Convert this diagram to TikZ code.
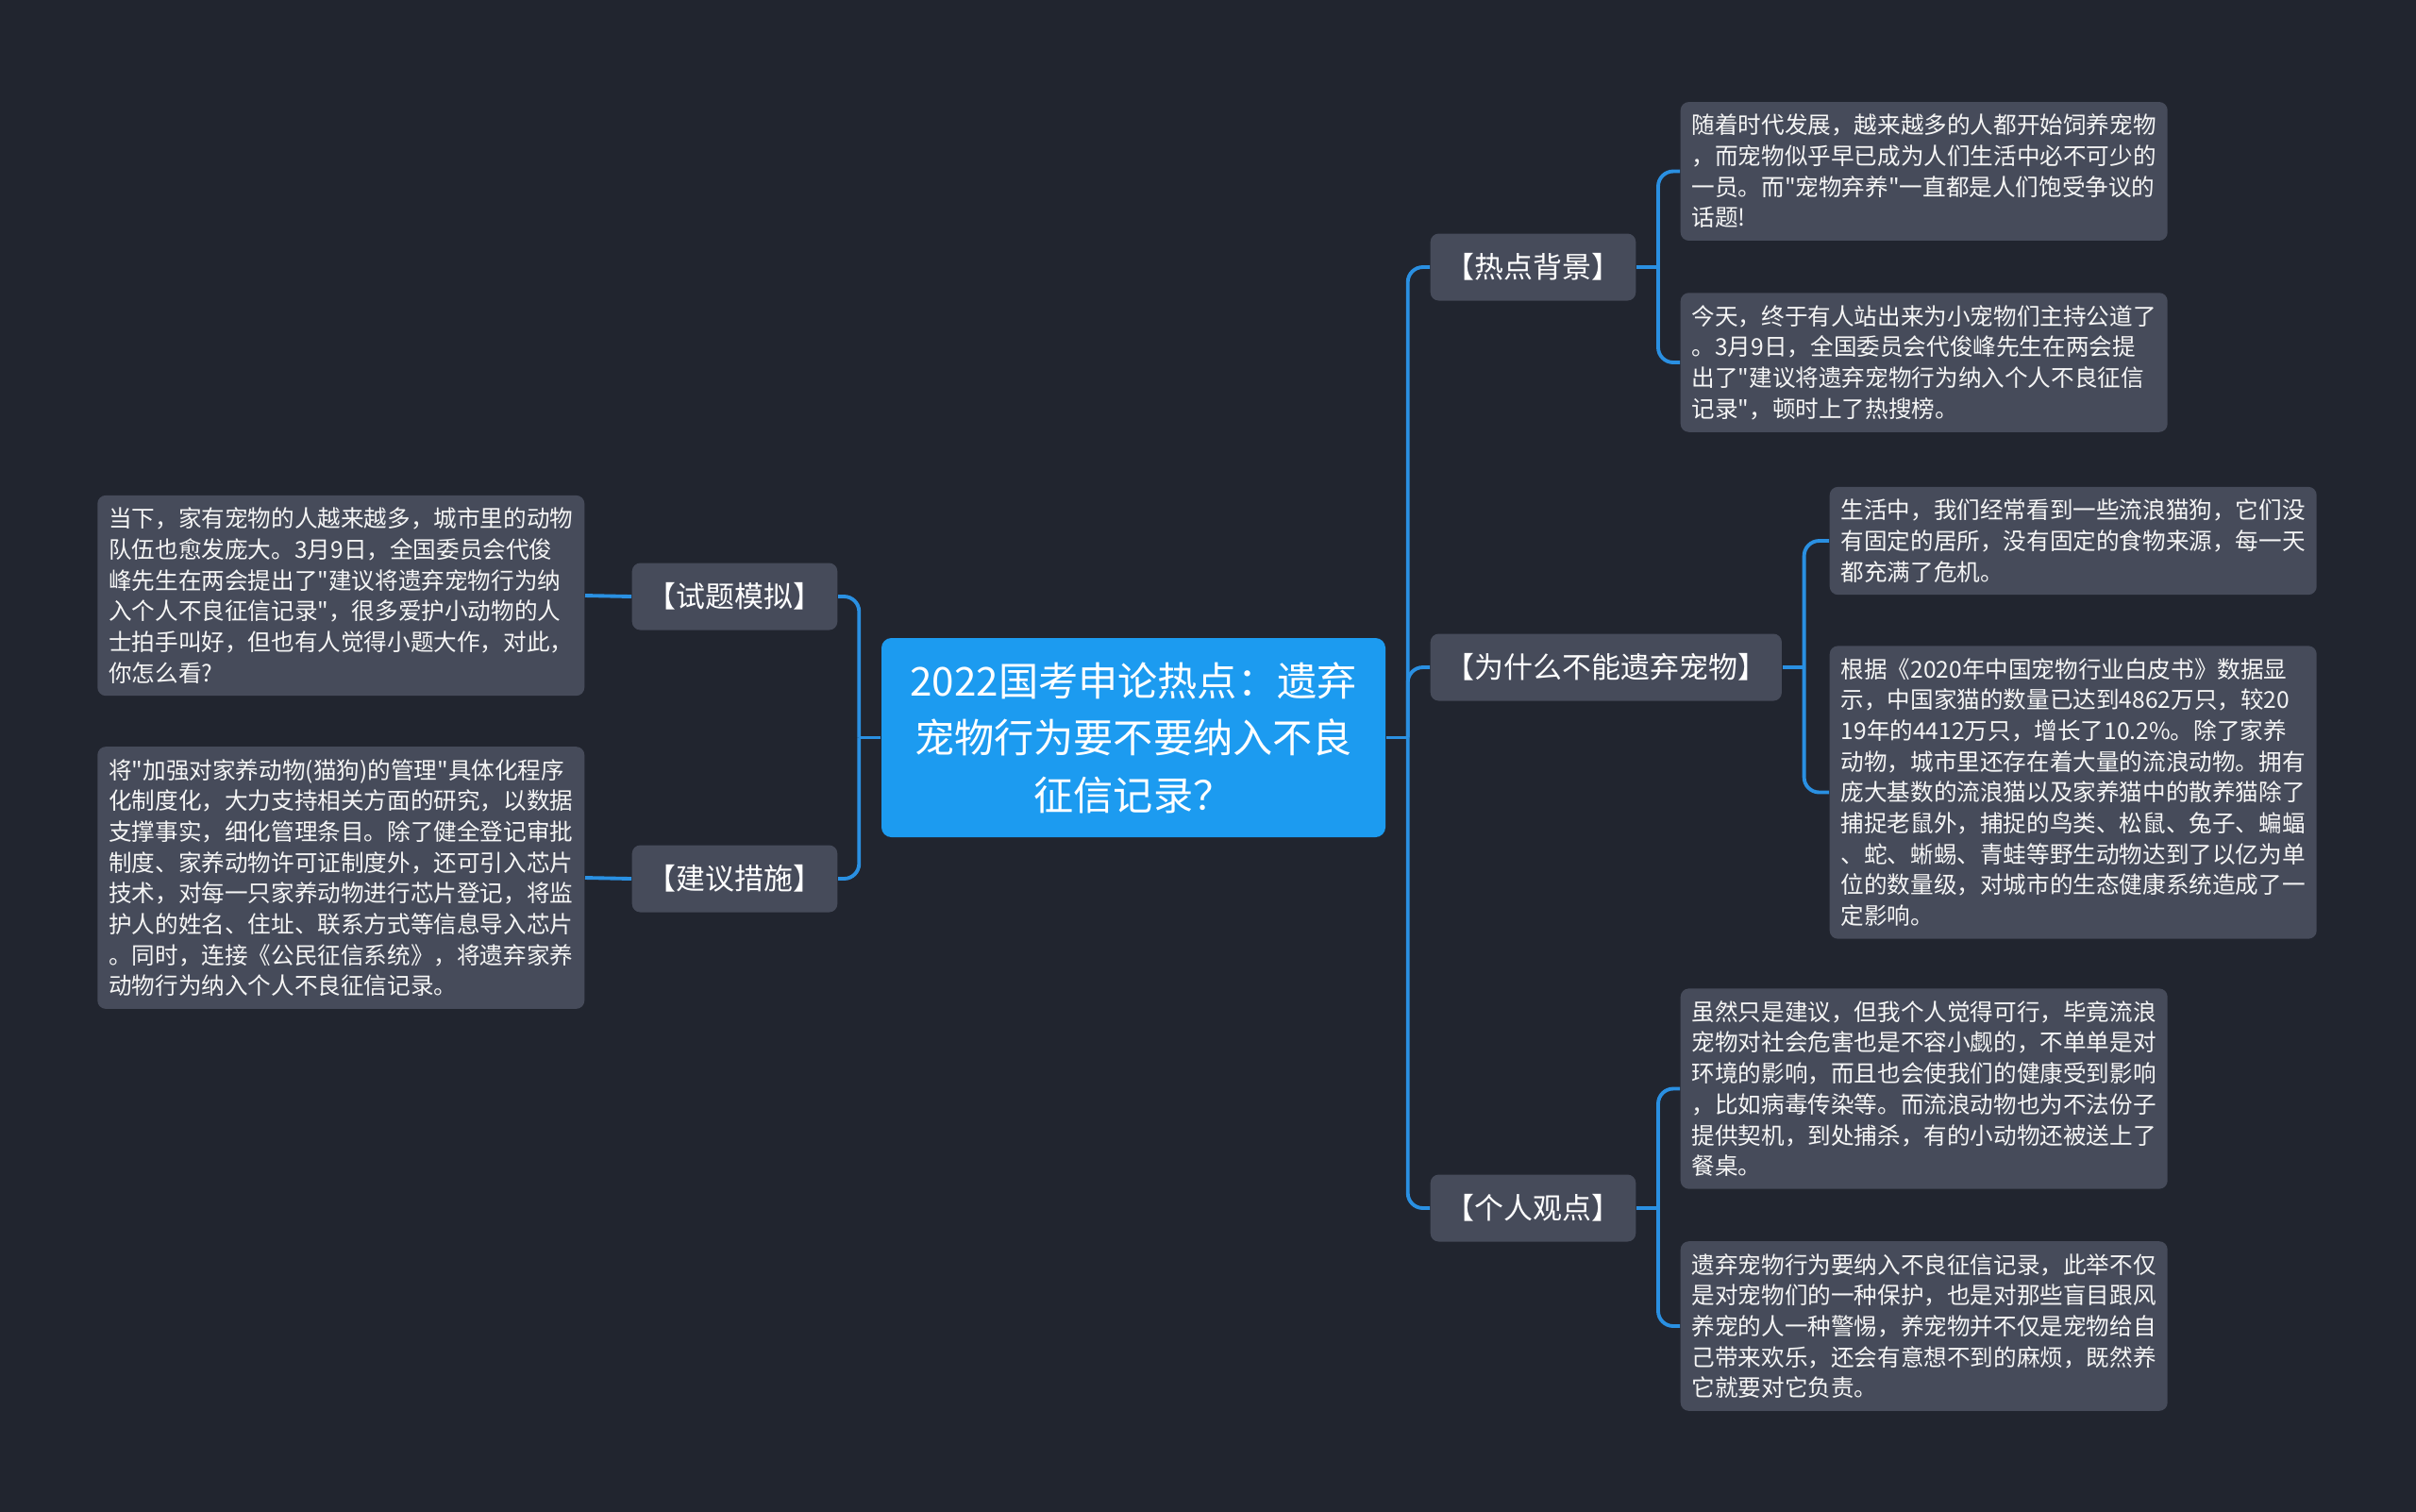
\documentclass[tikz,border=0pt]{standalone}
\usepackage{fontspec}
\setmainfont{Noto Sans CJK SC}[Ligatures=TeXOff]
\usepackage{xcolor}
\usepackage{tikz}
\usetikzlibrary{positioning}
\definecolor{bgdark}{HTML}{21252F}
\definecolor{cardgray}{HTML}{464B5A}
\definecolor{rootblue}{HTML}{1C9BF0}
\definecolor{linkblue}{HTML}{2A90E2}

\begin{document}
\begin{tikzpicture}[
    root/.style={fill=rootblue, rounded corners=3pt, text=white, align=center,
        minimum width=5.34cm, minimum height=2.11cm, font=\fontsize{12}{17.2}\selectfont},
    branch/.style={fill=cardgray, rounded corners=2.5pt, text=white, inner xsep=0.16cm,
        minimum height=0.71cm, font=\fontsize{8.8}{10}\selectfont},
    leaf/.style={fill=cardgray, rounded corners=2.5pt, text=white!92!gray, align=left,
        text width=4.92cm, inner xsep=0.12cm, inner ysep=0.13cm, font=\fontsize{7}{9.3}\selectfont},
    link/.style={draw=linkblue, line width=1.1pt, rounded corners=0.16cm}
]
    % Frame and background
    \useasboundingbox (0,0) rectangle (25.6,-16.01);
    \fill[bgdark] (-0.1,0.1) rectangle (25.7,-16.11);

    % Central topic
    \node[root] (root) at (12.01,-7.815) {2022国考申论热点：遗弃\\宠物行为要不要纳入不良\\征信记录？};

    % Right branches
    \node[branch, anchor=west] (b_hot) at (15.15,-2.83) {【热点背景】};
    \node[branch, anchor=west] (b_why) at (15.15,-7.07) {【为什么不能遗弃宠物】};
    \node[branch, anchor=west] (b_view) at (15.15,-12.80) {【个人观点】};

    % Left branches
    \node[branch, anchor=east] (b_mock) at (8.88,-6.32) {【试题模拟】};
    \node[branch, anchor=east] (b_plan) at (8.88,-9.31) {【建议措施】};

    % Leaves under 热点背景
    \node[leaf, anchor=west] (r_bg1) at (17.80,-1.815) {随着时代发展，越来越多的人都开始饲养宠物\\，而宠物似乎早已成为人们生活中必不可少的\\一员。而"宠物弃养"一直都是人们饱受争议的\\话题!};
    \node[leaf, anchor=west] (r_bg2) at (17.80,-3.84) {今天，终于有人站出来为小宠物们主持公道了\\。3月9日，全国委员会代俊峰先生在两会提\\出了"建议将遗弃宠物行为纳入个人不良征信\\记录"，顿时上了热搜榜。};

    % Leaves under 为什么不能遗弃宠物
    \node[leaf, anchor=west] (r_why1) at (19.38,-5.73) {生活中，我们经常看到一些流浪猫狗，它们没\\有固定的居所，没有固定的食物来源，每一天\\都充满了危机。};
    \node[leaf, anchor=west] (r_why2) at (19.38,-8.395) {根据《2020年中国宠物行业白皮书》数据显\\示，中国家猫的数量已达到4862万只，较20\\19年的4412万只，增长了10.2\%。除了家养\\动物，城市里还存在着大量的流浪动物。拥有\\庞大基数的流浪猫以及家养猫中的散养猫除了\\捕捉老鼠外，捕捉的鸟类、松鼠、兔子、蝙蝠\\、蛇、蜥蜴、青蛙等野生动物达到了以亿为单\\位的数量级，对城市的生态健康系统造成了一\\定影响。};

    % Leaves under 个人观点
    \node[leaf, anchor=west] (r_view1) at (17.80,-11.535) {虽然只是建议，但我个人觉得可行，毕竟流浪\\宠物对社会危害也是不容小觑的，不单单是对\\环境的影响，而且也会使我们的健康受到影响\\，比如病毒传染等。而流浪动物也为不法份子\\提供契机，到处捕杀，有的小动物还被送上了\\餐桌。};
    \node[leaf, anchor=west] (r_view2) at (17.80,-14.05) {遗弃宠物行为要纳入不良征信记录，此举不仅\\是对宠物们的一种保护，也是对那些盲目跟风\\养宠的人一种警惕，养宠物并不仅是宠物给自\\己带来欢乐，还会有意想不到的麻烦，既然养\\它就要对它负责。};

    % Leaves on the left
    \node[leaf, anchor=east] (l_mock) at (6.20,-6.31) {当下，家有宠物的人越来越多，城市里的动物\\队伍也愈发庞大。3月9日，全国委员会代俊\\峰先生在两会提出了"建议将遗弃宠物行为纳\\入个人不良征信记录"，很多爱护小动物的人\\士拍手叫好，但也有人觉得小题大作，对此，\\你怎么看?};
    \node[leaf, anchor=east] (l_plan) at (6.20,-9.30) {将"加强对家养动物(猫狗)的管理"具体化程序\\化制度化，大力支持相关方面的研究，以数据\\支撑事实，细化管理条目。除了健全登记审批\\制度、家养动物许可证制度外，还可引入芯片\\技术，对每一只家养动物进行芯片登记，将监\\护人的姓名、住址、联系方式等信息导入芯片\\。同时，连接《公民征信系统》，将遗弃家养\\动物行为纳入个人不良征信记录。};

    % Links: root to branches
    \draw[link] (root.east) -- ++(0.23,0) coordinate (r_fork);
    \foreach \b in {b_hot, b_why, b_view} {
        \draw[link] (r_fork) |- (\b.west);
    }
    \draw[link] (root.west) -- ++(-0.23,0) coordinate (l_fork);
    \foreach \b in {b_mock, b_plan} {
        \draw[link] (l_fork) |- (\b.east);
    }

    % Links: branches to leaves
    \draw[link] (b_hot.east) -- ++(0.23,0) coordinate (hot_fork);
    \foreach \p in {r_bg1, r_bg2} {
        \draw[link] (hot_fork) |- (\p.west);
    }
    \draw[link] (b_why.east) -- ++(0.23,0) coordinate (why_fork);
    \foreach \p in {r_why1, r_why2} {
        \draw[link] (why_fork) |- (\p.west);
    }
    \draw[link] (b_view.east) -- ++(0.23,0) coordinate (view_fork);
    \foreach \p in {r_view1, r_view2} {
        \draw[link] (view_fork) |- (\p.west);
    }
    \draw[link] (b_mock.west) -- (l_mock.east);
    \draw[link] (b_plan.west) -- (l_plan.east);

\end{tikzpicture}
\end{document}
